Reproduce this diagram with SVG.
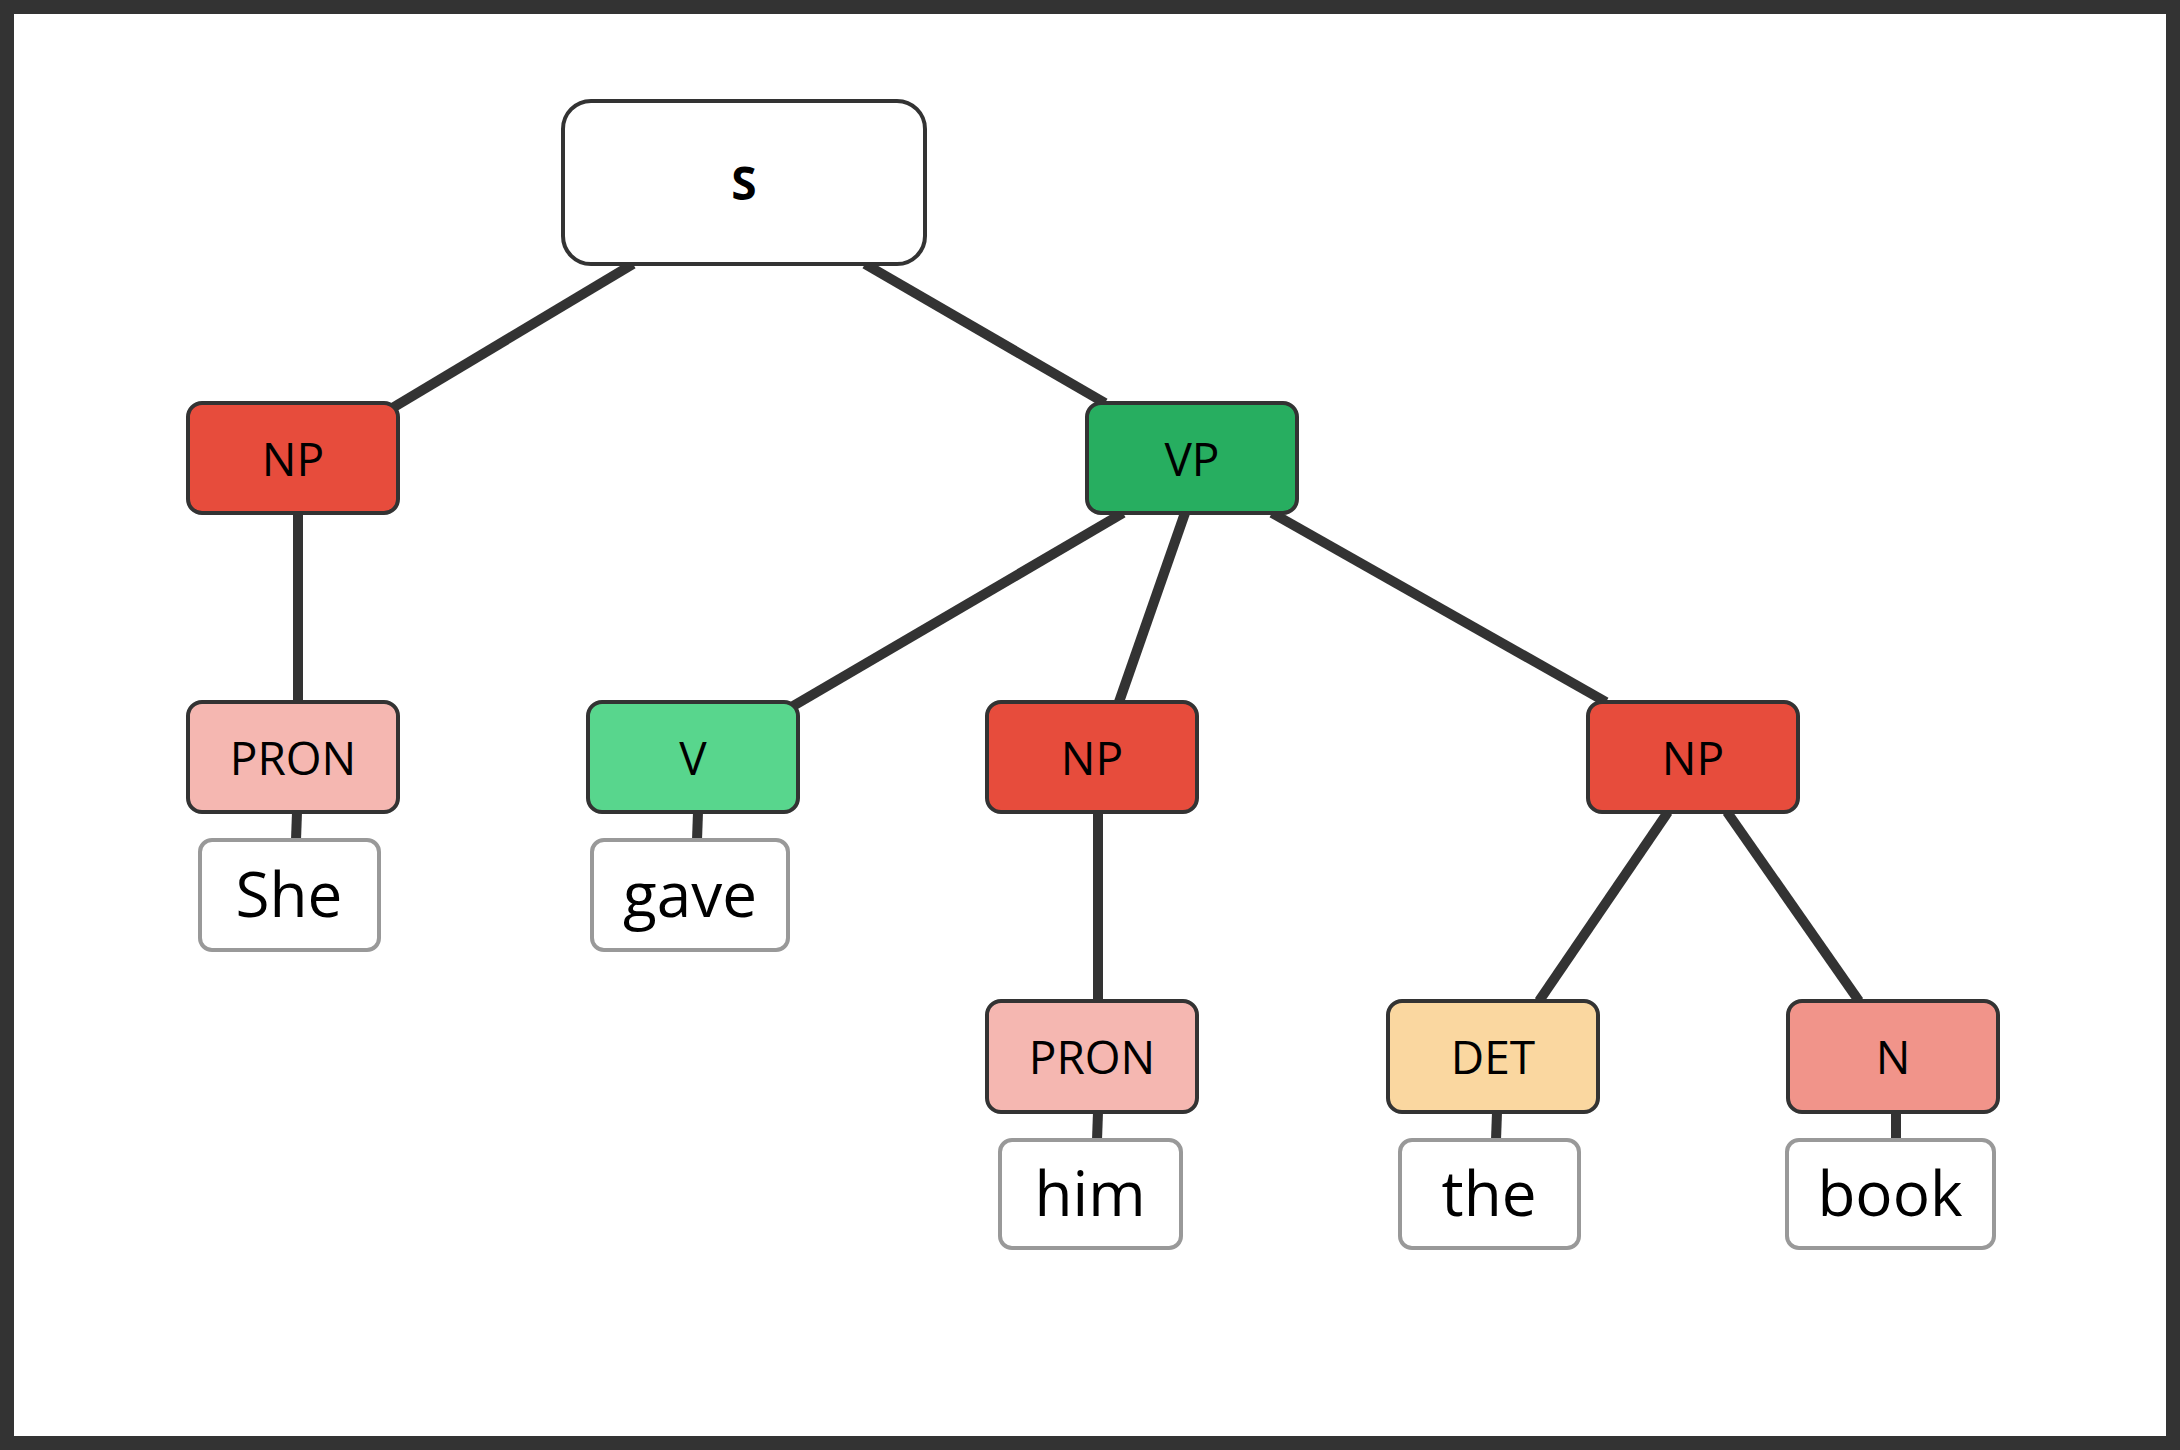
<svg xmlns="http://www.w3.org/2000/svg" width="2180" height="1450" viewBox="0 0 2180 1450">
<style>
.n{stroke:#333;stroke-width:4}
.w{fill:#fff;stroke:#999;stroke-width:4}
.t{font-family:"Open Sans","Noto Sans",sans-serif;font-size:46px;fill:#000;text-anchor:middle;dominant-baseline:central}
.wt{font-family:"Open Sans","Noto Sans",sans-serif;font-size:62px;fill:#000;text-anchor:middle;dominant-baseline:central}
#edges line{stroke:#333;stroke-width:10}
</style>
<rect x="0" y="0" width="2180" height="1450" fill="#fff"/>
<rect x="7" y="7" width="2166" height="1436" fill="none" stroke="#333" stroke-width="14"/>
<g id="edges">
<line x1="633" y1="264" x2="389" y2="410"/>
<line x1="865" y1="264" x2="1105" y2="403"/>
<line x1="298" y1="513" x2="298" y2="702"/>
<line x1="1123" y1="513" x2="788" y2="709"/>
<line x1="1185" y1="513" x2="1119" y2="702"/>
<line x1="1272" y1="513" x2="1606" y2="702"/>
<line x1="1098" y1="812" x2="1098" y2="1001"/>
<line x1="1668" y1="812" x2="1539" y2="1001"/>
<line x1="1727" y1="812" x2="1859" y2="1001"/>
<line x1="297" y1="812" x2="296" y2="840"/>
<line x1="698" y1="812" x2="697" y2="840"/>
<line x1="1098" y1="1112" x2="1097" y2="1140"/>
<line x1="1497" y1="1112" x2="1496" y2="1140"/>
<line x1="1896" y1="1112" x2="1896" y2="1140"/>
</g>
<g id="S"><rect x="563" y="101" width="362" height="163" rx="28" fill="#fff" class="n" stroke-width="5"/><text x="744" y="182" class="t" font-weight="bold" font-size="52">S</text></g>
<g id="NP1"><rect x="188" y="403" width="210" height="110" rx="14" fill="#E74C3C" class="n"/><text x="293" y="458" class="t">NP</text></g>
<g id="VP"><rect x="1087" y="403" width="210" height="110" rx="14" fill="#27AE60" class="n"/><text x="1192" y="458" class="t">VP</text></g>
<g id="PRON1"><rect x="188" y="702" width="210" height="110" rx="14" fill="#F5B7B1" class="n"/><text x="293" y="757" class="t">PRON</text></g>
<g id="V"><rect x="588" y="702" width="210" height="110" rx="14" fill="#58D68D" class="n"/><text x="693" y="757" class="t">V</text></g>
<g id="NP2"><rect x="987" y="702" width="210" height="110" rx="14" fill="#E74C3C" class="n"/><text x="1092" y="757" class="t">NP</text></g>
<g id="NP3"><rect x="1588" y="702" width="210" height="110" rx="14" fill="#E74C3C" class="n"/><text x="1693" y="757" class="t">NP</text></g>
<g id="PRON2"><rect x="987" y="1001" width="210" height="111" rx="14" fill="#F5B7B1" class="n"/><text x="1092" y="1056" class="t">PRON</text></g>
<g id="DET"><rect x="1388" y="1001" width="210" height="111" rx="14" fill="#FAD7A0" class="n"/><text x="1493" y="1056" class="t">DET</text></g>
<g id="N"><rect x="1788" y="1001" width="210" height="111" rx="14" fill="#F1948A" class="n"/><text x="1893" y="1056" class="t">N</text></g>
<g id="She"><rect x="200" y="840" width="179" height="110" rx="12" class="w"/><text x="289" y="893" class="wt">She</text></g>
<g id="gave"><rect x="592" y="840" width="196" height="110" rx="12" class="w"/><text x="690" y="893" class="wt">gave</text></g>
<g id="him"><rect x="1000" y="1140" width="181" height="108" rx="12" class="w"/><text x="1090" y="1192" class="wt">him</text></g>
<g id="the"><rect x="1400" y="1140" width="179" height="108" rx="12" class="w"/><text x="1489" y="1192" class="wt">the</text></g>
<g id="book"><rect x="1787" y="1140" width="207" height="108" rx="12" class="w"/><text x="1890" y="1192" class="wt">book</text></g>
</svg>
